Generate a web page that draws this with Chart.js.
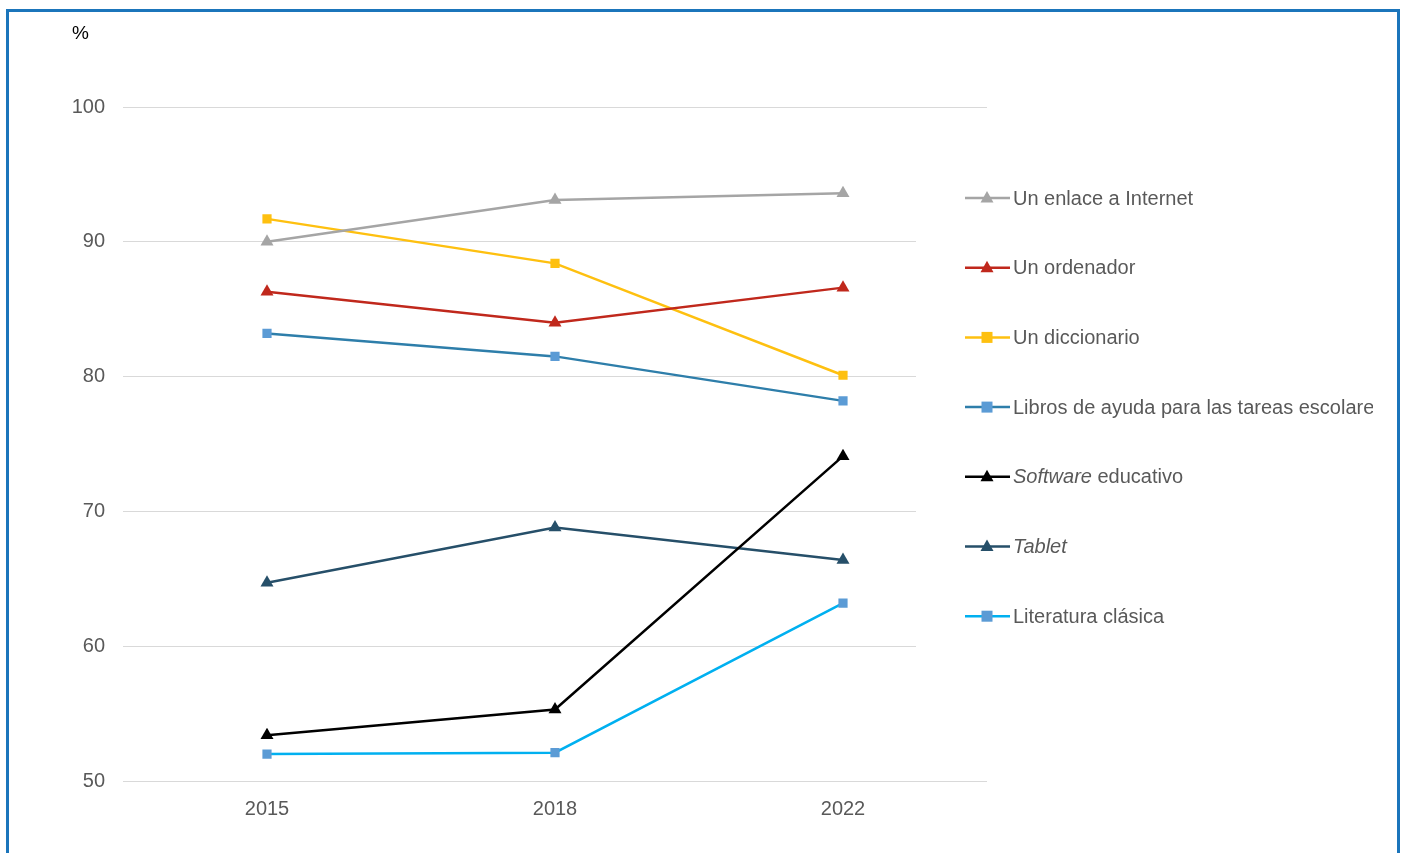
<!DOCTYPE html>
<html>
<head>
<meta charset="utf-8">
<script src="https://cdn.jsdelivr.net/npm/chart.js@4"></script>
<style>
  html, body { margin: 0; padding: 0; background: #fff; overflow: hidden; }
  #frame {
    position: absolute; left: 6px; top: 9px; width: 1394px; height: 900px;
    border: 3px solid #1b75bb; box-sizing: border-box; z-index: 2; pointer-events: none;
  }
  #wrap { position: absolute; left: 0; top: 0; width: 1405px; height: 853px; z-index: 1; }
</style>
</head>
<body>
<div id="wrap"><canvas id="chart"></canvas></div>
<div id="frame"></div>
<script>
const years = ['2015', '2018', '2022'];
const seriesNames = [
  'Un enlace a Internet',
  'Un ordenador',
  'Un diccionario',
  'Libros de ayuda para las tareas escolares',
  'Software educativo',
  'Tablet',
  'Literatura clásica'
];
// words shown in italics at the start of a label
const italicWords = ['', '', '', '', 'Software', 'Tablet', ''];

const internet = [90.0, 93.1, 93.6];
const ordenador = [86.3, 84.0, 86.6];
const diccionario = [91.7, 88.4, 80.1];
const libros = [83.2, 81.5, 78.2];
const software = [53.4, 55.3, 74.1];
const tablet = [64.7, 68.8, 66.4];
const literatura = [52.0, 52.1, 63.2];

const yTicks = [50, 60, 70, 80, 90, 100];

const lineColors = ['#a5a5a5', '#c0281c', '#fec010', '#2e7eaa', '#000000', '#264f69', '#00b0f0'];
const markerColors = ['#a5a5a5', '#c0281c', '#fec010', '#5b9bd5', '#000000', '#264f69', '#5b9bd5'];
const markerShapes = ['triangle', 'triangle', 'rect', 'rect', 'triangle', 'triangle', 'rect'];
const allValues = [internet, ordenador, diccionario, libros, software, tablet, literatura];

const datasets = allValues.map((vals, i) => ({
  label: seriesNames[i],
  data: vals,
  borderColor: lineColors[i],
  backgroundColor: markerColors[i],
  pointBackgroundColor: markerColors[i],
  pointBorderColor: markerColors[i],
  pointBorderWidth: 0,
  borderWidth: 2.5,
  pointStyle: markerShapes[i],
  pointRadius: markerShapes[i] === 'rect' ? 6.5 : 7.5,
  tension: 0,
}));

const FONT = '"Liberation Sans", Arial, sans-serif';

const legendPlugin = {
  id: 'customLegend',
  beforeDatasetsDraw(chart) {
    const ctx = chart.ctx;
    ctx.save();
    // white legend box covering the gridlines
    ctx.fillStyle = '#fff';
    ctx.fillRect(916, 125, 460, 570);

    // % unit label
    ctx.fillStyle = '#000';
    ctx.font = '19px ' + FONT;
    ctx.textBaseline = 'middle';
    ctx.textAlign = 'left';
    ctx.fillText('%', 72, 34);

    ctx.beginPath();
    ctx.rect(0, 0, 1373, 853);
    ctx.clip();
    const x0 = 965, x1 = 1010, mx = 987;
    seriesNames.forEach((name, i) => {
      const y = 198 + i * 69.7;
      ctx.strokeStyle = lineColors[i];
      ctx.lineWidth = 2.5;
      ctx.beginPath();
      ctx.moveTo(x0, y);
      ctx.lineTo(x1, y);
      ctx.stroke();
      ctx.fillStyle = markerColors[i];
      if (markerShapes[i] === 'rect') {
        ctx.fillRect(mx - 5.5, y - 5.5, 11, 11);
      } else {
        ctx.beginPath();
        ctx.moveTo(mx, y - 7);
        ctx.lineTo(mx + 6.5, y + 4.5);
        ctx.lineTo(mx - 6.5, y + 4.5);
        ctx.closePath();
        ctx.fill();
      }
      let tx = 1013;
      ctx.fillStyle = '#595959';
      const it = italicWords[i];
      let rest = name;
      if (it) {
        ctx.font = 'italic 20px ' + FONT;
        ctx.fillText(it, tx, y + 1);
        tx += ctx.measureText(it).width;
        rest = name.slice(it.length);
      }
      ctx.font = '20px ' + FONT;
      ctx.fillText(rest, tx, y + 1);
    });
    ctx.restore();
  }
};

new Chart(document.getElementById('chart'), {
  type: 'line',
  data: { labels: years, datasets: datasets },
  options: {
    responsive: true,
    maintainAspectRatio: false,
    animation: false,
    events: [],
    layout: { padding: { top: 107, right: 418, bottom: 0, left: 0 } },
    plugins: {
      legend: { display: false },
      tooltip: { enabled: false },
    },
    scales: {
      x: {
        offset: true,
        grid: { display: false },
        border: { display: false },
        ticks: { color: '#595959', font: { family: FONT, size: 20 }, padding: 8 },
        afterFit(scale) { scale.height = 72; },
      },
      y: {
        min: 50,
        max: 100,
        afterBuildTicks(scale) { scale.ticks = yTicks.map(v => ({ value: v })); },
        grid: { color: '#d9d9d9', lineWidth: 1, drawTicks: false },
        border: { display: false },
        ticks: { color: '#595959', font: { family: FONT, size: 20 }, padding: 18 },
        afterFit(scale) { scale.width = 123; },
      },
    },
  },
  plugins: [legendPlugin],
});
</script>
</body>
</html>
